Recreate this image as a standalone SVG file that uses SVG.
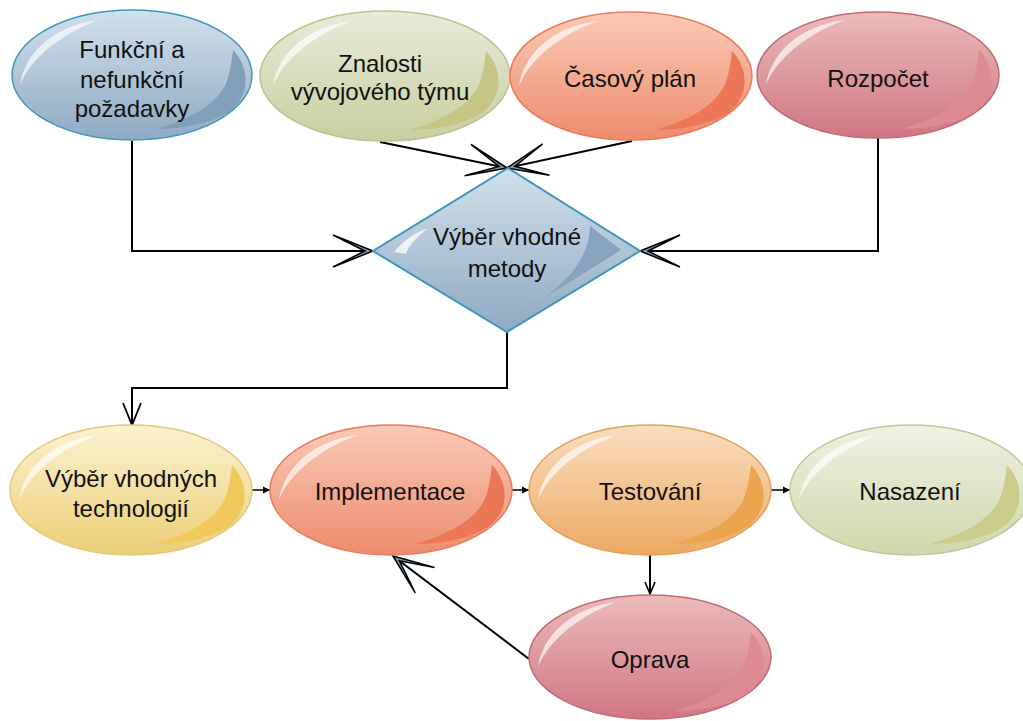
<svg xmlns="http://www.w3.org/2000/svg" xmlns:xlink="http://www.w3.org/1999/xlink" width="1023" height="721" viewBox="0 0 1023 721">
  <defs>
    <linearGradient id="gBlue" x1="0" y1="0" x2="0" y2="1">
      <stop offset="0" stop-color="#d2e0ec"/><stop offset="1" stop-color="#8eaac3"/>
    </linearGradient>
    <linearGradient id="gGreen" x1="0" y1="0" x2="0" y2="1">
      <stop offset="0" stop-color="#e9ebda"/><stop offset="1" stop-color="#c8ce9e"/>
    </linearGradient>
    <linearGradient id="gGreenLight" x1="0" y1="0" x2="0" y2="1">
      <stop offset="0" stop-color="#eff1e3"/><stop offset="1" stop-color="#d0d7aa"/>
    </linearGradient>
    <linearGradient id="gSalmon" x1="0" y1="0" x2="0" y2="1">
      <stop offset="0" stop-color="#f9cab6"/><stop offset="1" stop-color="#ee8c6e"/>
    </linearGradient>
    <linearGradient id="gRose" x1="0" y1="0" x2="0" y2="1">
      <stop offset="0" stop-color="#eabbb9"/><stop offset="1" stop-color="#d07682"/>
    </linearGradient>
    <linearGradient id="gYellow" x1="0" y1="0" x2="0" y2="1">
      <stop offset="0" stop-color="#fcf2d0"/><stop offset="1" stop-color="#ebce76"/>
    </linearGradient>
    <linearGradient id="gOrange" x1="0" y1="0" x2="0" y2="1">
      <stop offset="0" stop-color="#f9dec0"/><stop offset="1" stop-color="#eda962"/>
    </linearGradient>

    <!-- glossy highlight (upper left) and shaded crescent (lower right), relative to ellipse centre -->
    <path id="hl" d="M-36,-54 C-78,-48 -106,-22 -112,8 C-100,-14 -76,-38 -36,-54 Z M-36,-54 C-72,-44 -100,-20 -112,8 C-96,-22 -72,-44 -36,-54 Z"/>
    <path id="hlFill" d="M-34,-55 C-80,-49 -108,-20 -112,10 C-104,-10 -82,-36 -34,-55 Z"/>
    <path id="sh" d="M101,-25 C120,-5 118,26 92,40 C72,50 48,54 24,54 C56,45 86,30 95,6 C99,-6 100,-17 101,-25 Z"/>

    <marker id="bigArrow" markerUnits="userSpaceOnUse" orient="auto" refX="0" refY="0" markerWidth="50" markerHeight="40" overflow="visible">
      <polygon points="0,0 -40,-16 -8,0 -40,16" fill="#7d9db8" stroke="#000" stroke-width="1.5" stroke-linejoin="miter"/>
    </marker>
    <marker id="vArrow" markerUnits="userSpaceOnUse" orient="auto" refX="0" refY="0" markerWidth="30" markerHeight="24" overflow="visible">
      <path d="M-22,-9 L0,0 L-22,9" fill="none" stroke="#000" stroke-width="1.8"/>
    </marker>
    <marker id="smallV" markerUnits="userSpaceOnUse" orient="auto" refX="0" refY="0" markerWidth="16" markerHeight="12" overflow="visible">
      <path d="M-12,-5 L0,0 L-12,5" fill="none" stroke="#000" stroke-width="1.6"/>
    </marker>
    <marker id="tiny" markerUnits="userSpaceOnUse" orient="auto" refX="0" refY="0" markerWidth="10" markerHeight="8" overflow="visible">
      <polygon points="0,0 -7,-3.5 -7,3.5" fill="#000"/>
    </marker>
  </defs>

  <style>
    .lbl { font-family: "Liberation Sans", Arial, sans-serif; font-size: 24px; fill: #111; text-anchor: middle; }
    .hl { fill: #ffffff; fill-opacity: 0.65; }
    .conn { fill: none; stroke: #000; stroke-width: 2; }
    .thin { fill: none; stroke: #000; stroke-width: 1.5; }
  </style>

  <rect width="1023" height="721" fill="#ffffff"/>

  <!-- connectors -->
  <g id="connectors">
    <polyline class="conn" points="132,141 132,251 373,251" marker-end="url(#bigArrow)"/>
    <line class="conn" x1="380" y1="142" x2="507" y2="168" marker-end="url(#bigArrow)"/>
    <line class="conn" x1="632" y1="141" x2="507" y2="168" marker-end="url(#bigArrow)"/>
    <polyline class="conn" points="878,138 878,251 640,251" marker-end="url(#bigArrow)"/>
    <polyline class="conn" points="507,332 507,388 132,388 132,425" marker-end="url(#vArrow)"/>
    <line class="thin" x1="252" y1="490" x2="270" y2="490" marker-end="url(#tiny)"/>
    <line class="thin" x1="512" y1="490" x2="529" y2="490" marker-end="url(#tiny)"/>
    <line class="thin" x1="771" y1="490" x2="790" y2="490" marker-end="url(#tiny)"/>
    <line class="conn" x1="650" y1="555" x2="650" y2="594" marker-end="url(#smallV)"/>
    <line class="conn" x1="529" y1="659" x2="393" y2="556" marker-end="url(#bigArrow)"/>
  </g>

  <!-- top row -->
  <g id="node-pozadavky">
    <ellipse cx="132" cy="75" rx="120" ry="65" fill="url(#gBlue)" stroke="#3e97bd" stroke-width="1.5"/>
    <use xlink:href="#sh" x="132" y="75" fill="#819fb9"/>
    <use xlink:href="#hlFill" x="132" y="75" class="hl"/>
    <text class="lbl" x="132" y="58">Funkční a</text>
    <text class="lbl" x="132" y="88">nefunkční</text>
    <text class="lbl" x="132" y="117">požadavky</text>
  </g>

  <g id="node-znalosti">
    <ellipse cx="385" cy="76" rx="125" ry="65" fill="url(#gGreen)" stroke="#bcc293" stroke-width="1.5"/>
    <use xlink:href="#sh" x="385" y="76" fill="#c6c585"/>
    <use xlink:href="#hlFill" x="385" y="76" class="hl"/>
    <text class="lbl" x="380" y="72">Znalosti</text>
    <text class="lbl" x="380" y="100">vývojového týmu</text>
  </g>

  <g id="node-plan">
    <ellipse cx="631" cy="76" rx="121" ry="64" fill="url(#gSalmon)" stroke="#eb7a5c" stroke-width="1.5"/>
    <use xlink:href="#sh" x="631" y="76" fill="#ec7757"/>
    <use xlink:href="#hlFill" x="631" y="76" class="hl"/>
    <text class="lbl" x="630" y="87">Časový plán</text>
  </g>

  <g id="node-rozpocet">
    <ellipse cx="878" cy="75" rx="121" ry="63" fill="url(#gRose)" stroke="#c06a78" stroke-width="1.5"/>
    <use xlink:href="#sh" x="878" y="75" fill="#de8a92"/>
    <use xlink:href="#hlFill" x="878" y="75" class="hl"/>
    <text class="lbl" x="878" y="87">Rozpočet</text>
  </g>

  <!-- decision -->
  <g id="node-metoda">
    <polygon points="508,168 640,251 507,332 373,251" fill="url(#gBlue)" stroke="#3e97bd" stroke-width="2"/>
    <path d="M590,226 L621,250 L512,318 C560,292 590,262 590,226 Z" fill="#86a4bd"/>
    <path d="M394,252 C404,240 414,233 428,228 C416,238 409,245 406,254 Z" fill="#ffffff" fill-opacity="0.75"/>
    <text class="lbl" x="507" y="245">Výběr vhodné</text>
    <text class="lbl" x="507" y="277">metody</text>
  </g>

  <!-- bottom row -->
  <g id="node-technologie">
    <ellipse cx="131" cy="490" rx="121" ry="65" fill="url(#gYellow)" stroke="#e4c97e" stroke-width="1.5"/>
    <use xlink:href="#sh" x="131" y="490" fill="#efc95c"/>
    <use xlink:href="#hlFill" x="131" y="490" class="hl"/>
    <text class="lbl" x="131" y="487">Výběr vhodných</text>
    <text class="lbl" x="131" y="517">technologií</text>
  </g>

  <g id="node-implementace">
    <ellipse cx="391" cy="490" rx="121" ry="65" fill="url(#gSalmon)" stroke="#eb7a5c" stroke-width="1.5"/>
    <use xlink:href="#sh" x="391" y="490" fill="#ec7757"/>
    <use xlink:href="#hlFill" x="391" y="490" class="hl"/>
    <text class="lbl" x="390" y="500">Implementace</text>
  </g>

  <g id="node-testovani">
    <ellipse cx="650" cy="490" rx="121" ry="65" fill="url(#gOrange)" stroke="#e2a25e" stroke-width="1.5"/>
    <use xlink:href="#sh" x="650" y="490" fill="#eca44e"/>
    <use xlink:href="#hlFill" x="650" y="490" class="hl"/>
    <text class="lbl" x="650" y="500">Testování</text>
  </g>

  <g id="node-nasazeni">
    <ellipse cx="911" cy="490" rx="121" ry="65" fill="url(#gGreenLight)" stroke="#c0c79a" stroke-width="1.5"/>
    <use xlink:href="#sh" x="906" y="490" fill="#cbcb8c"/>
    <use xlink:href="#hlFill" x="911" y="490" class="hl"/>
    <text class="lbl" x="910" y="500">Nasazení</text>
  </g>

  <g id="node-oprava">
    <ellipse cx="650" cy="657" rx="121" ry="62" fill="url(#gRose)" stroke="#c06a78" stroke-width="1.5"/>
    <use xlink:href="#sh" x="650" y="657" fill="#de8a92"/>
    <use xlink:href="#hlFill" x="650" y="657" class="hl"/>
    <text class="lbl" x="650" y="668">Oprava</text>
  </g>
</svg>
